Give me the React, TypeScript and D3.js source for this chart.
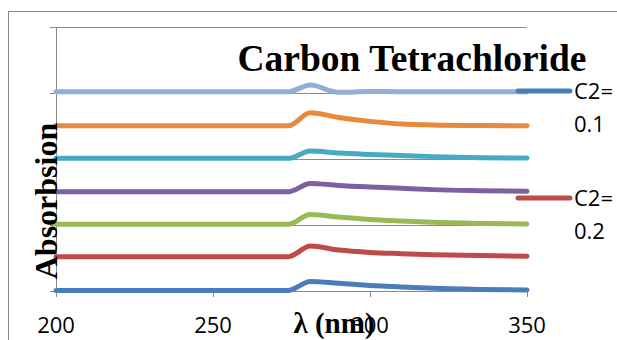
import { useRef, useEffect } from 'react';
import * as d3 from 'd3';

const WIDTH = 617;
const HEIGHT = 340;

const wavelengths = [200, 274, 281, 290, 300, 310, 320, 335, 350];

const seriesNames = ['C2=0.1', 'C2=0.2', 'C2=0.3', 'C2=0.4', 'C2=0.5', 'C2=0.6', 'C2=0.7'];
const seriesColors = ['#4a7ebb', '#be4b48', '#98b954', '#7d60a0', '#46aac5', '#e8893c', '#93aed6'];

const s1 = [0.004, 0.004, 0.072, 0.058, 0.042, 0.03, 0.02, 0.012, 0.008];
const s2 = [0.26, 0.26, 0.34, 0.31, 0.292, 0.283, 0.275, 0.268, 0.264];
const s3 = [0.505, 0.505, 0.58, 0.56, 0.542, 0.53, 0.52, 0.512, 0.508];
const s4 = [0.752, 0.752, 0.815, 0.8, 0.788, 0.778, 0.768, 0.76, 0.755];
const s5 = [1.005, 1.005, 1.06, 1.045, 1.035, 1.027, 1.018, 1.01, 1.007];
const s6 = [1.252, 1.252, 1.35, 1.315, 1.285, 1.265, 1.258, 1.254, 1.252];
const s7 = [1.51, 1.51, 1.56, 1.505, 1.512, 1.51, 1.51, 1.51, 1.51];
const seriesValues = [s1, s2, s3, s4, s5, s6, s7];

const xTicks = [200, 250, 300, 350];
const yTicks = [0, 0.5, 1, 1.5, 2];

// only the first two legend entries fit in the frame
const legendRows = [
  { series: 0, lines: ['C2=', '0.1'] },
  { series: 1, lines: ['C2=', '0.2'] },
];

const LABEL_FONT = '"Open Sans", "Liberation Sans", sans-serif';
const SERIF = '"Liberation Serif", "Times New Roman", serif';

export default function App() {
  const svgRef = useRef<SVGSVGElement>(null);

  useEffect(() => {
    document.body.style.margin = '0';
    const svg = d3.select(svgRef.current);
    svg.selectAll('*').remove();

    const x = d3.scaleLinear().domain([200, 350]).range([56, 527]);
    const y = d3.scaleLinear().domain([0, 2]).range([291, 27]);

    svg.append('rect').attr('width', WIDTH).attr('height', HEIGHT).attr('fill', '#fff');

    // chart frame
    svg
      .append('rect')
      .attr('x', 8.5)
      .attr('y', 11.5)
      .attr('width', WIDTH)
      .attr('height', HEIGHT)
      .attr('fill', 'none')
      .attr('stroke', '#8a8a8a')
      .attr('stroke-width', 1);

    // grid lines
    yTicks.slice(1).forEach((v) => {
      svg
        .append('line')
        .attr('x1', x(200))
        .attr('x2', x(350))
        .attr('y1', Math.round(y(v)) + 0.5)
        .attr('y2', Math.round(y(v)) + 0.5)
        .attr('stroke', '#8a8a8a')
        .attr('stroke-width', 1);
    });

    // y axis
    const yAxis = svg.append('g');
    yAxis
      .append('line')
      .attr('x1', x(200) + 0.5)
      .attr('x2', x(200) + 0.5)
      .attr('y1', y(2))
      .attr('y2', y(0) + 2)
      .attr('stroke', '#8a8a8a');
    yTicks.forEach((v) => {
      yAxis
        .append('line')
        .attr('x1', x(200) - 6)
        .attr('x2', x(200))
        .attr('y1', Math.round(y(v)) + 0.5)
        .attr('y2', Math.round(y(v)) + 0.5)
        .attr('stroke', '#8a8a8a');
    });

    // x axis
    const xAxis = svg.append('g');
    xAxis
      .append('line')
      .attr('x1', x(200))
      .attr('x2', x(350))
      .attr('y1', Math.round(y(0)) + 0.5)
      .attr('y2', Math.round(y(0)) + 0.5)
      .attr('stroke', '#8a8a8a');
    xTicks.forEach((v) => {
      xAxis
        .append('line')
        .attr('x1', Math.round(x(v)) + 0.5)
        .attr('x2', Math.round(x(v)) + 0.5)
        .attr('y1', y(0))
        .attr('y2', y(0) + 6)
        .attr('stroke', '#8a8a8a');
      xAxis
        .append('text')
        .attr('x', x(v))
        .attr('y', 333)
        .attr('text-anchor', 'middle')
        .attr('font-family', LABEL_FONT)
        .attr('font-size', 22)
        .attr('fill', '#000')
        .text(String(v));
    });

    // series
    const line = d3
      .line<number>()
      .x((_, i) => x(wavelengths[i]))
      .y((d) => y(d))
      .curve(d3.curveMonotoneX);

    seriesValues.forEach((vals, i) => {
      svg
        .append('path')
        .attr('d', line(vals))
        .attr('fill', 'none')
        .attr('stroke', seriesColors[i])
        .attr('stroke-width', 5)
        .attr('stroke-linejoin', 'round')
        .attr('stroke-linecap', 'round');
    });

    // title
    svg
      .append('text')
      .attr('x', 412)
      .attr('y', 71)
      .attr('text-anchor', 'middle')
      .attr('font-family', SERIF)
      .attr('font-weight', 700)
      .attr('font-size', 37.5)
      .attr('fill', '#000')
      .text('Carbon Tetrachloride');

    // axis titles
    svg
      .append('text')
      .attr('transform', 'translate(57,201) rotate(-90)')
      .attr('text-anchor', 'middle')
      .attr('font-family', SERIF)
      .attr('font-weight', 700)
      .attr('font-size', 32)
      .attr('fill', '#000')
      .text('Absorbsion');

    svg
      .append('text')
      .attr('x', 334)
      .attr('y', 333)
      .attr('text-anchor', 'middle')
      .attr('font-family', SERIF)
      .attr('font-weight', 700)
      .attr('font-size', 29)
      .attr('fill', '#000')
      .text('λ (nm)');

    // legend
    const legend = svg.append('g');
    legendRows.forEach((row, r) => {
      const top = 91 + r * 107;
      legend
        .append('line')
        .attr('x1', 518)
        .attr('x2', 570)
        .attr('y1', top)
        .attr('y2', top)
        .attr('stroke', seriesColors[row.series])
        .attr('stroke-width', 5)
        .attr('stroke-linecap', 'round');
      row.lines.forEach((t, k) => {
        legend
          .append('text')
          .attr('x', 574)
          .attr('y', top + 8 + k * 33)
          .attr('font-family', LABEL_FONT)
          .attr('font-size', 22)
          .attr('fill', '#000')
          .text(t);
      });
    });
  }, []);

  return (
    <svg
      ref={svgRef}
      width={WIDTH}
      height={HEIGHT}
      style={{ position: 'absolute', left: 0, top: 0, display: 'block' }}
    />
  );
}
